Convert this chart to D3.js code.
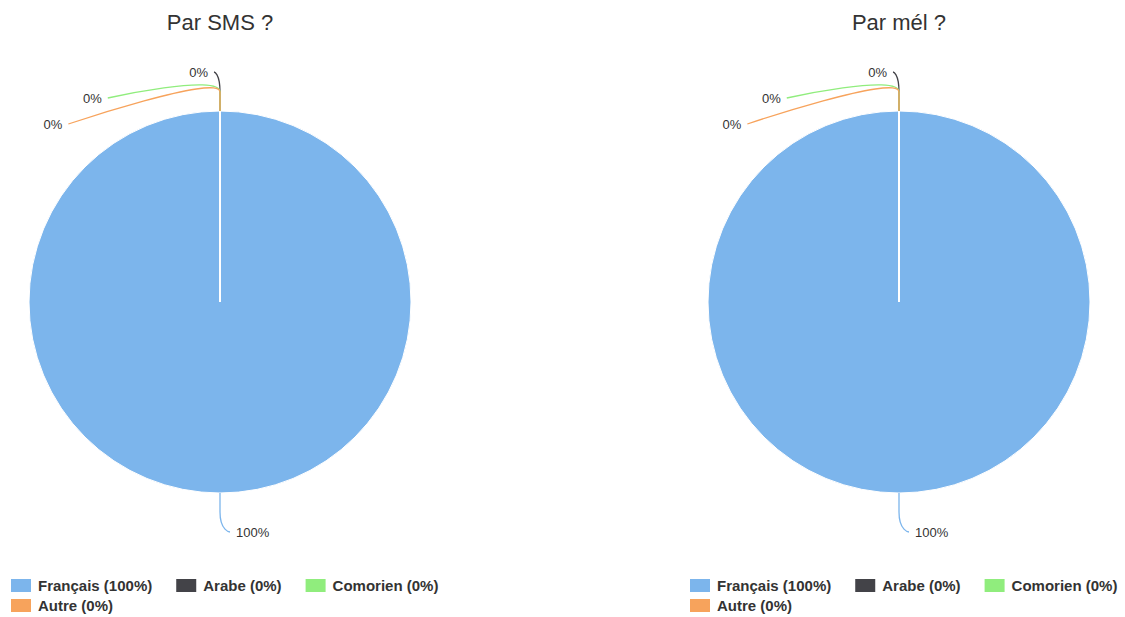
<!DOCTYPE html>
<meta charset="utf-8">
<html>
<head>
<script src="https://cdn.jsdelivr.net/npm/d3@7/dist/d3.min.js"></script>
<style>
body { margin: 0; background: #fff; }
svg { font-family: "Liberation Sans", Arial, Helvetica, sans-serif; }
</style>
</head>
<body>
<svg id="chart" width="1125" height="617"></svg>
<script>
// donnees
var categories = ["Français", "Arabe", "Comorien", "Autre"];
var smsValues = [100, 0, 0, 0];
var melValues = [100, 0, 0, 0];
var colors = ["#7cb5ec", "#434348", "#90ed7d", "#f7a35c"];
var titles = ["Par SMS ?", "Par mél ?"];
var series = [smsValues, melValues];

var svg = d3.select("#chart");
var panelOffset = 679;
var cx = 220, cy = 302, r = 191;
var labelR = r + 39, breakR = r + 19;

var pie = d3.pie().sort(null).value(function(d) { return d.value; });
var arc = d3.arc().innerRadius(0).outerRadius(r);

series.forEach(function(vals, p) {
  var total = d3.sum(vals);
  var rows = categories.map(function(c, i) {
    return { name: c, value: vals[i], color: colors[i], pct: Math.round(vals[i] / total * 100) };
  });
  var g = svg.append("g").attr("transform", "translate(" + (p * panelOffset) + ",0)");

  g.append("text")
    .attr("x", cx).attr("y", 30)
    .attr("text-anchor", "middle")
    .style("font-size", "22px").style("fill", "#333")
    .text(titles[p]);

  var arcs = pie(rows);
  var pg = g.append("g").attr("transform", "translate(" + cx + "," + cy + ")");
  pg.selectAll("path.slice").data(arcs).enter().append("path")
    .attr("class", "slice")
    .attr("d", arc)
    .attr("fill", function(d) { return d.data.color; })
    .attr("stroke", "#fff").attr("stroke-width", 1);
  // bord blanc des parts (trait radial au debut de chaque part)
  pg.selectAll("line.border").data(arcs.filter(function(d) { return d.data.value > 0; })).enter().append("line")
    .attr("x1", 0).attr("y1", 0)
    .attr("x2", function(d) { return r * Math.sin(d.startAngle); })
    .attr("y2", function(d) { return -r * Math.cos(d.startAngle); })
    .attr("stroke", "#fff").attr("stroke-width", 2);

  // positions des etiquettes
  var labels = arcs.map(function(d) {
    var a = (d.startAngle + d.endAngle) / 2;
    return { d: d, a: a, left: a > Math.PI + 1e-6, y: cy - labelR * Math.cos(a) };
  });
  [true, false].forEach(function(side) {
    var prev = -1e9;
    labels.filter(function(l) { return l.left === side; })
      .sort(function(a, b) { return a.y - b.y; })
      .forEach(function(l) {
        l.y = Math.max(l.y, prev + 26);
        prev = l.y;
      });
  });
  labels.forEach(function(l) {
    var dy = Math.min(Math.abs(l.y - cy), labelR);
    var dx = Math.sqrt(labelR * labelR - dy * dy);
    l.x = cx + (l.left ? -dx : dx);
    l.ex = cx + r * Math.sin(l.a); l.ey = cy - r * Math.cos(l.a);
    l.bx = cx + breakR * Math.sin(l.a); l.by = cy - breakR * Math.cos(l.a);
  });

  g.selectAll("path.conn").data(labels).enter().append("path")
    .attr("class", "conn")
    .attr("fill", "none")
    .attr("stroke", function(l) { return l.d.data.color; })
    .attr("stroke-width", 1.3)
    .attr("d", function(l) {
      var sx = l.x + (l.left ? -6 : 10);
      return "M" + sx + "," + l.y + " C" + sx + "," + l.y + " " +
        (2 * l.bx - l.ex) + "," + (2 * l.by - l.ey) + " " + l.bx + "," + l.by +
        " L" + l.ex + "," + l.ey;
    });

  g.selectAll("text.lab").data(labels).enter().append("text")
    .attr("class", "lab")
    .attr("x", function(l) { return l.x + (l.left ? -12 : 16); })
    .attr("y", function(l) { return l.y; })
    .attr("dy", "0.35em")
    .attr("text-anchor", function(l) { return l.left ? "end" : "start"; })
    .style("font-size", "13px").style("fill", "#333")
    .text(function(l) { return l.d.data.pct + "%"; });

  // legende
  var lg = g.append("g");
  var lx = 11, row = 0, maxW = 445;
  rows.forEach(function(d) {
    var item = lg.append("g");
    item.append("rect").attr("width", 20).attr("height", 13).attr("fill", d.color);
    var t = item.append("text").attr("x", 27).attr("y", 12)
      .style("font-size", "15px").style("font-weight", "bold").style("fill", "#333")
      .text(d.name + " (" + d.pct + "%)");
    var w = 27 + t.node().getComputedTextLength();
    if (lx + w > maxW) { lx = 11; row++; }
    item.attr("transform", "translate(" + lx + "," + (579 + row * 20) + ")");
    lx += w + 24;
  });
});
</script>
</body>
</html>
